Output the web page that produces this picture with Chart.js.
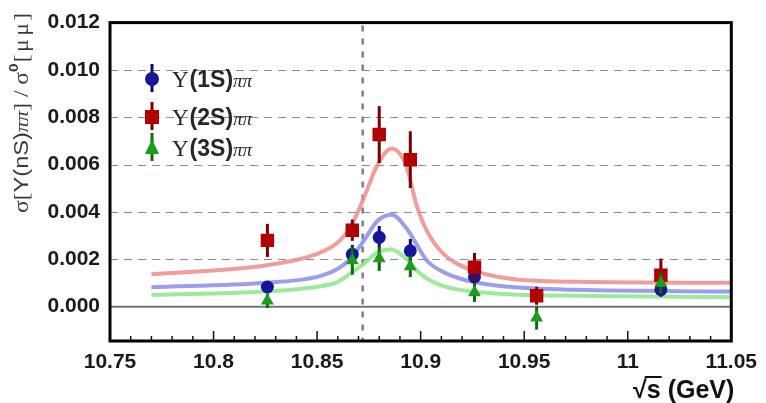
<!DOCTYPE html>
<html>
<head>
<meta charset="utf-8">
<script src="https://cdn.jsdelivr.net/npm/chart.js@4.4.1/dist/chart.umd.min.js"></script>
<style>
html,body{margin:0;padding:0;background:#fff;}
canvas{display:block;}
</style>
</head>
<body>
<canvas id="c" width="766" height="403"></canvas>
<script>
// ---- data ----
const energies = [10.826, 10.867, 10.880, 10.895, 10.926, 10.956, 11.016];
const y1S = [0.00083, 0.00221, 0.00293, 0.00236, 0.00126, 0.00045, 0.00072];
const e1S = [0.00020, 0.00040, 0.00048, 0.00050, 0.00030, 0.00020, 0.00030];
const y2S = [0.00280, 0.00323, 0.00727, 0.00621, 0.00167, 0.00046, 0.00133];
const e2S = [0.00070, 0.00045, 0.00120, 0.00120, 0.00060, 0.00038, 0.00070];
const y3S = [0.00025, 0.00195, 0.00203, 0.00170, 0.00060, -0.00047, 0.00100];
const e3S = [0.00030, 0.00060, 0.00052, 0.00045, 0.00040, 0.00050, 0.00045];

const fitX   = [10.770, 10.825, 10.850, 10.860, 10.866, 10.8725, 10.879, 10.886, 10.893, 10.898, 10.903, 10.911, 10.925, 10.9425, 10.975, 11.050];
const fit2S  = [0.00137, 0.00174, 0.00223, 0.00271, 0.00333, 0.00458, 0.00596, 0.00668, 0.00596, 0.00430, 0.00320, 0.00223, 0.00154, 0.00119, 0.00105, 0.00101];
const fit1S  = [0.00082, 0.00101, 0.00126, 0.00160, 0.00202, 0.00278, 0.00361, 0.00388, 0.00333, 0.00264, 0.00195, 0.00146, 0.00105, 0.00084, 0.00071, 0.00064];
const fit3S  = [0.00050, 0.00064, 0.00084, 0.00105, 0.00140, 0.00181, 0.00229, 0.00242, 0.00202, 0.00154, 0.00119, 0.00087, 0.00064, 0.00053, 0.00046, 0.00040];

const xTickVals   = [10.75, 10.80, 10.85, 10.90, 10.95, 11.00, 11.05];
const xTickLabels = ["10.75", "10.8", "10.85", "10.9", "10.95", "11", "11.05"];
const yTickVals   = [0.000, 0.002, 0.004, 0.006, 0.008, 0.010, 0.012];
const yTickLabels = ["0.000", "0.002", "0.004", "0.006", "0.008", "0.010", "0.012"];
const thresholdX = 10.872;
const xRange = [10.75, 11.05];
const yRange = [-0.00145, 0.012];

// ---- styles ----
const COL = {
  s1: {mark: '#16169a', err: '#0a0a6a', fit: 'rgba(140,140,235,0.85)'},
  s2: {mark: '#b00000', err: '#7a0000', fit: 'rgba(240,140,140,0.85)'},
  s3: {mark: '#1f9a1f', err: '#0d6a0d', fit: 'rgba(140,230,140,0.85)'}
};
const pts = (ys) => energies.map((x, i) => ({x: x, y: ys[i]}));
const fitPts = (ys) => fitX.map((x, i) => ({x: x, y: ys[i]}));

function drawRich(ctx, parts, x, y) {
  let cx = x;
  for (const p of parts) {
    ctx.font = p.font;
    ctx.fillText(p.t, cx, y + (p.dy || 0));
    cx += ctx.measureText(p.t).width + (p.gap || 0);
  }
  return cx;
}
function richWidth(ctx, parts) {
  let w = 0;
  for (const p of parts) { ctx.font = p.font; w += ctx.measureText(p.t).width + (p.gap || 0); }
  return w;
}

const SERIF = '"Liberation Serif", "DejaVu Serif", serif';
const SANS = '"Liberation Sans", Arial, sans-serif';

const decor = {
  id: 'decor',
  beforeDatasetsDraw(chart) {
    const {ctx, chartArea: a, scales: {x, y}} = chart;
    ctx.save();
    ctx.strokeStyle = '#8a8a8a';
    ctx.lineWidth = 1.2;
    ctx.setLineDash([8, 6]);
    for (const v of yTickVals) {
      if (v === 0 || v === yRange[1]) continue;
      const py = Math.round(y.getPixelForValue(v)) + 0.5;
      ctx.beginPath(); ctx.moveTo(a.left, py); ctx.lineTo(a.right, py); ctx.stroke();
    }
    ctx.setLineDash([]);
    ctx.strokeStyle = '#6d7680';
    ctx.lineWidth = 2;
    const p0 = y.getPixelForValue(0);
    ctx.beginPath(); ctx.moveTo(a.left, p0); ctx.lineTo(a.right, p0); ctx.stroke();
    ctx.strokeStyle = '#76828a';
    ctx.lineWidth = 2.5;
    ctx.setLineDash([6, 7]);
    const tx = x.getPixelForValue(thresholdX);
    ctx.beginPath(); ctx.moveTo(tx, a.top + 3); ctx.lineTo(tx, a.bottom); ctx.stroke();
    ctx.restore();
  },
  beforeDatasetDraw(chart, args) {
    const ds = chart.data.datasets[args.index];
    if (!ds.errors) return;
    const {ctx, scales: {x, y}} = chart;
    ctx.save();
    ctx.strokeStyle = ds.errColor;
    ctx.lineWidth = 3;
    ds.data.forEach((p, i) => {
      const px = x.getPixelForValue(p.x);
      ctx.beginPath();
      ctx.moveTo(px, y.getPixelForValue(p.y + ds.errors[i]));
      ctx.lineTo(px, y.getPixelForValue(p.y - ds.errors[i]));
      ctx.stroke();
    });
    ctx.restore();
  },
  afterDraw(chart) {
    const {ctx, chartArea: a, scales: {x, y}} = chart;
    ctx.save();
    ctx.strokeStyle = '#111';
    ctx.lineWidth = 1.5;
    for (let k = 1; k < 30; k++) {
      const v = xRange[0] + k * 0.01;
      const px = x.getPixelForValue(v);
      const major = (k % 5 === 0);
      ctx.beginPath(); ctx.moveTo(px, a.bottom); ctx.lineTo(px, a.bottom - (major ? 10 : 5)); ctx.stroke();
    }
    ctx.strokeStyle = '#000';
    ctx.lineWidth = 3;
    ctx.strokeRect(a.left, a.top, a.right - a.left, a.bottom - a.top);

    // legend
    const legend = [
      {k: 's1', n: '1S', y: 79, style: 'circle'},
      {k: 's2', n: '2S', y: 117, style: 'rect'},
      {k: 's3', n: '3S', y: 148, style: 'triangle'}
    ];
    const lx = 152;
    for (const L of legend) {
      const c = COL[L.k];
      ctx.strokeStyle = c.err; ctx.lineWidth = 3;
      ctx.beginPath(); ctx.moveTo(lx, L.y - 15); ctx.lineTo(lx, L.y + 13); ctx.stroke();
      ctx.fillStyle = c.mark;
      ctx.beginPath();
      if (L.style === 'circle') { ctx.arc(lx, L.y, 7, 0, Math.PI * 2); }
      else if (L.style === 'rect') { ctx.rect(lx - 7, L.y - 7, 14, 14); }
      else { ctx.moveTo(lx, L.y - 9); ctx.lineTo(lx + 7, L.y + 6); ctx.lineTo(lx - 7, L.y + 6); ctx.closePath(); }
      ctx.fill();
      ctx.fillStyle = '#262626';
      ctx.textBaseline = 'alphabetic';
      drawRich(ctx, [
        {t: 'Υ', font: '23px ' + SERIF, gap: 1},
        {t: '(' + L.n + ')', font: 'bold 23px ' + SANS},
        {t: 'ππ', font: 'italic 19px ' + SERIF}
      ], 172, L.y + 8);
    }

    // y axis title (rotated), stretched to the reference length
    const yParts = [
      {t: 'σ[', font: '20px ' + SERIF},
      {t: 'Υ(nS)', font: '20px ' + SANS},
      {t: 'ππ', font: 'italic 18px ' + SERIF},
      {t: '] / σ', font: '20px ' + SERIF},
      {t: '0', font: 'bold 13px ' + SANS, dy: -10, gap: 1},
      {t: '[', font: '20px ' + SERIF, gap: 2},
      {t: 'μ', font: '20px ' + SERIF, gap: 3},
      {t: 'μ', font: '20px ' + SERIF, gap: 2},
      {t: ']', font: '20px ' + SERIF}
    ];
    const yw = richWidth(ctx, yParts);
    ctx.save();
    ctx.translate(21, 213);
    ctx.rotate(-Math.PI / 2);
    ctx.scale(200 / yw, 1);
    ctx.fillStyle = '#3a3a3a';
    ctx.textBaseline = 'alphabetic';
    drawRich(ctx, yParts, 0, 7);
    ctx.restore();

    // x axis title
    ctx.fillStyle = '#111';
    const xParts = [
      {t: '√', font: 'bold 25px ' + SANS},
      {t: 's', font: 'bold 25px ' + SANS},
      {t: ' (GeV)', font: 'bold 25px ' + SANS}
    ];
    const w = richWidth(ctx, xParts);
    const sx = a.right + 3 - w;
    ctx.font = 'bold 25px ' + SANS;
    const wr = ctx.measureText('√').width;
    const ws = ctx.measureText('s').width;
    drawRich(ctx, xParts, sx, 398);
    ctx.strokeStyle = '#111'; ctx.lineWidth = 2;
    ctx.beginPath(); ctx.moveTo(sx + wr - 2, 377); ctx.lineTo(sx + wr + ws + 1, 377); ctx.stroke();
    ctx.restore();
  }
};

const tickFont = {family: SANS, size: 21, weight: 'bold'};

new Chart(document.getElementById('c').getContext('2d'), {
  type: 'scatter',
  data: {
    datasets: [
      {label: 'Υ(3S)ππ', data: pts(y3S), pointStyle: 'triangle', pointRadius: 7.5,
       backgroundColor: COL.s3.mark, borderColor: COL.s3.mark, borderWidth: 0,
       errors: e3S, errColor: COL.s3.err, order: 0},
      {label: 'Υ(2S)ππ', data: pts(y2S), pointStyle: 'rect', pointRadius: 9.5,
       backgroundColor: COL.s2.mark, borderColor: COL.s2.mark, borderWidth: 0,
       errors: e2S, errColor: COL.s2.err, order: 1},
      {label: 'Υ(1S)ππ', data: pts(y1S), pointStyle: 'circle', pointRadius: 6.5,
       backgroundColor: COL.s1.mark, borderColor: COL.s1.mark, borderWidth: 0,
       errors: e1S, errColor: COL.s1.err, order: 2},
      {type: 'line', label: 'fit 2S', data: fitPts(fit2S), borderColor: COL.s2.fit, borderWidth: 4,
       pointRadius: 0, cubicInterpolationMode: 'monotone', fill: false, order: 5},
      {type: 'line', label: 'fit 1S', data: fitPts(fit1S), borderColor: COL.s1.fit, borderWidth: 4,
       pointRadius: 0, cubicInterpolationMode: 'monotone', fill: false, order: 6},
      {type: 'line', label: 'fit 3S', data: fitPts(fit3S), borderColor: COL.s3.fit, borderWidth: 4,
       pointRadius: 0, cubicInterpolationMode: 'monotone', fill: false, order: 7}
    ]
  },
  options: {
    responsive: false,
    animation: false,
    devicePixelRatio: 1,
    layout: {padding: {left: 0, right: 29, top: 17, bottom: 0}},
    plugins: {legend: {display: false}, tooltip: {enabled: false}},
    scales: {
      x: {
        type: 'linear', min: xRange[0], max: xRange[1],
        afterBuildTicks: (s) => { s.ticks = xTickVals.map(v => ({value: v})); },
        afterFit: (s) => { s.height = 62; },
        grid: {display: false, drawTicks: false},
        border: {display: false},
        ticks: {
          callback: (v, i) => xTickLabels[i],
          font: tickFont, color: '#1a1a1a', padding: 9,
          maxRotation: 0, autoSkip: false
        }
      },
      y: {
        type: 'linear', min: yRange[0], max: yRange[1],
        afterBuildTicks: (s) => { s.ticks = yTickVals.map(v => ({value: v})); },
        afterFit: (s) => { s.width = 110; },
        grid: {display: false, drawTicks: false},
        border: {display: false},
        ticks: {
          callback: (v, i) => yTickLabels[i],
          font: tickFont, color: '#1a1a1a', padding: 10, autoSkip: false
        }
      }
    }
  },
  plugins: [decor]
});
</script>
</body>
</html>
